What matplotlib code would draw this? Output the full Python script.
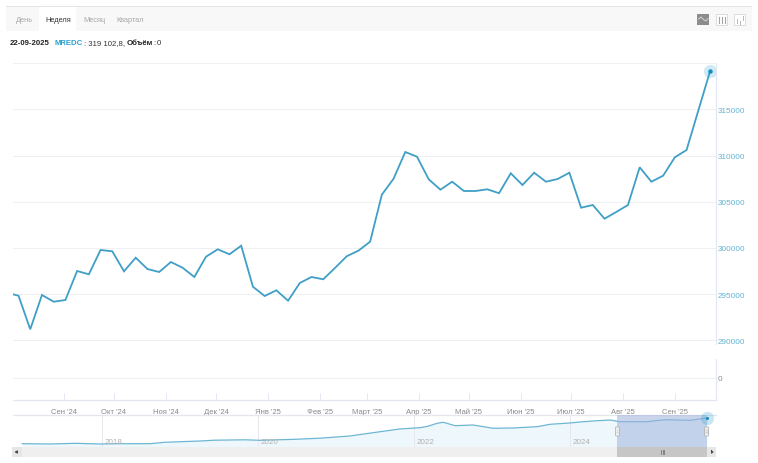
import numpy as np
import pandas as pd
import matplotlib
matplotlib.use("Agg")
import matplotlib.pyplot as plt
import matplotlib.dates as mdates
from matplotlib.patches import Rectangle, FancyBboxPatch

plt.rcParams['font.family'] = ['Liberation Sans', 'DejaVu Sans']

W, H = 758, 464

# Weekly series, oldest first; the last point is dated 22-09-2025
weekly_values = [295145, 294832, 291196, 294907, 294182, 294366, 297504, 297147, 299776, 299636,
                 297472, 298943, 297720, 297396, 298478, 297861, 296855, 299051, 299852, 299311,
                 300242, 295805, 294799, 295416, 294291, 296206, 296855, 296606, 297829, 299095,
                 299701, 300674, 305760, 307491, 310380, 309871, 307426, 306301, 307166, 306160,
                 306160, 306344, 305922, 308075, 306809, 308140, 307166, 307458, 308140, 304353,
                 304645, 303163, 303888, 304645, 308724, 307166, 307816, 309806, 310596, 314850,
                 319102.8]
last_date = "2025-09-22"
weekly_dates = pd.date_range(end=last_date, periods=len(weekly_values), freq="7D")

y_ticks = [290000, 295000, 300000, 305000, 310000, 315000]
month_ticks = ["2024-09-01", "2024-10-01", "2024-11-01", "2024-12-01", "2025-01-01", "2025-02-01",
               "2025-03-01", "2025-04-01", "2025-05-01", "2025-06-01", "2025-07-01", "2025-08-01",
               "2025-09-01"]
month_labels = ["Сен '24", "Окт '24", "Ноя '24", "Дек '24", "Янв '25", "Фев '25", "Март '25",
                "Апр '25", "Май '25", "Июн '25", "Июл '25", "Авг '25", "Сен '25"]

# Overview series (decimal year, value)
nav_years = [2016.98, 2017.34, 2017.66, 2017.98, 2018.23, 2018.62, 2018.81, 2019.26, 2019.45, 2019.84,
             2020.03, 2020.48, 2020.80, 2021.18, 2021.57, 2021.82, 2022.08, 2022.18, 2022.30, 2022.38,
             2022.53, 2022.76, 2023.02, 2023.27, 2023.58, 2023.75, 2024.0, 2024.13, 2024.35, 2024.52,
             2024.64, 2024.99, 2025.22, 2025.54, 2025.76]
nav_values = [152050, 150100, 154650, 150100, 152050, 152050, 161150, 169600, 174800, 177400,
              174150, 180650, 187800, 202100, 230050, 247600, 256050, 265150, 284650, 291150,
              269050, 273600, 252150, 254100, 262550, 278150, 286600, 293100, 301550, 306100,
              295050, 295050, 308050, 304150, 319100]
nav_year_ticks = [2018, 2020, 2022, 2024]

GRID = "#eef0f4"
LINE = "#3f9fc6"
TICK = "#62b3d3"
GRAY = "#8a8a8a"
AXISL = "#e3e7f2"
HDR = 5.6

fig = plt.figure(figsize=(W / 100, H / 100), dpi=100, facecolor="white")


def px_axes(x0, y0, x1, y1, **kw):
    return fig.add_axes([x0 / W, 1 - y1 / H, (x1 - x0) / W, (y1 - y0) / H], **kw)


# Chrome layer (pixel coordinates)
bg = px_axes(0, 0, W, H)
bg.set_xlim(0, W)
bg.set_ylim(H, 0)
bg.axis("off")
bg.add_patch(Rectangle((6, 8), 746, 24, fc="#f8f8f8", ec="none"))
bg.add_patch(Rectangle((6, 6.5), 746, 1.6, fc="#e4e4e4", ec="none"))
bg.add_patch(Rectangle((39, 8), 37, 24, fc="white", ec="none"))
for tx, lab, col in [(15.5, "День", "#a8a8a8"), (45, "Неделя", "#333333"),
                     (83, "Месяц", "#a8a8a8"), (116.5, "Квартал", "#a8a8a8")]:
    bg.text(tx, 20.3, lab, fontsize=5.3, color=col, va="center", ha="left")
# Header line
bg.text(9.5, 43.5, "22-09-2025", fontsize=HDR, weight="bold", color="#222222", va="center")
bg.text(54.5, 43.5, "MREDC", fontsize=HDR, weight="bold", color="#2a9fd0", va="center")
bg.text(84.5, 43.5, ": 319 102,8,", fontsize=HDR, color="#333333", va="center")
bg.text(127, 43.5, "Объём", fontsize=5.6, weight="bold", color="#222222", va="center")
bg.text(152.8, 43.5, ":", fontsize=HDR, color="#333333", va="center")
bg.text(157, 43.5, "0", fontsize=HDR, color="#333333", va="center")
# Toolbar icons
bg.add_patch(Rectangle((697, 14.5), 12, 11.5, fc="#8c8c8c", ec="none"))
bg.plot([698.5, 701, 703.5, 706, 708], [20, 18, 20.5, 22, 19.5], color="#d5d5d5", lw=0.7)
for ix in (716, 734):
    bg.add_patch(Rectangle((ix, 15), 11, 11, fc="white", ec="#d8d8d8", lw=0.6))
for ix in (719, 721.5, 724.5):
    bg.plot([ix, ix], [17.5, 23.5], color="#a5a5a5", lw=0.8)
for ix, y0, y1 in [(737, 20, 24), (740, 22, 25), (743, 17, 21)]:
    bg.plot([ix, ix], [y0, y1], color="#b8b8b8", lw=0.7)

# Main panel
MAIN_TOP, MAIN_BOT = 63.5, 345
X0, X1 = 12.7, 716.0
PX_PER_DAY = 11.72 / 7
d_end = mdates.date2num(pd.Timestamp(last_date))
xlim = (d_end - (710 - X0) / PX_PER_DAY, d_end + (X1 - 710) / PX_PER_DAY)
VAL_PER_PX = 108.2
val_at = lambda y: 315000 - (y - 110.3) * VAL_PER_PX

ax = px_axes(X0, MAIN_TOP, X1, MAIN_BOT)
ax.set_xlim(xlim)
ax.set_ylim(val_at(MAIN_BOT), val_at(MAIN_TOP))
ax.patch.set_alpha(0)
for s in ("left", "bottom"):
    ax.spines[s].set_visible(False)
ax.spines["top"].set_color(GRID)
ax.spines["top"].set_linewidth(0.8)
ax.spines["right"].set_color(AXISL)
ax.spines["right"].set_linewidth(0.8)
ax.yaxis.tick_right()
ax.set_yticks(y_ticks)
ax.set_yticklabels([str(v) for v in y_ticks])
ax.set_xticks([])
ax.tick_params(axis="y", length=0, pad=1.3, labelsize=5.9, labelcolor=TICK)
ax.grid(axis="y", color=GRID, lw=0.8)
ax.set_axisbelow(True)
ax.plot(weekly_dates, weekly_values, color=LINE, lw=1.3, solid_joinstyle="miter", clip_on=True)
ax.plot(weekly_dates[-1:], weekly_values[-1:], "o", ms=9.5, color="#2a9fd0", alpha=0.22, mec="none", clip_on=False)
ax.plot(weekly_dates[-1:], weekly_values[-1:], "o", ms=3.2, color="#0d8fc4", mec="none", clip_on=False)

# Volume panel
ax2 = px_axes(X0, 360, X1, 401.3)
ax2.set_xlim(xlim)
ax2.set_ylim(-22.3, 19)
ax2.patch.set_alpha(0)
for s in ("left", "top"):
    ax2.spines[s].set_visible(False)
ax2.spines["right"].set_color(AXISL)
ax2.spines["right"].set_linewidth(0.8)
ax2.spines["bottom"].set_color(AXISL)
ax2.spines["bottom"].set_linewidth(0.9)
ax2.yaxis.tick_right()
ax2.set_yticks([0])
ax2.set_yticklabels(["0"])
ax2.tick_params(axis="y", length=0, pad=1.3, labelsize=5.9, labelcolor=GRAY)
ax2.grid(axis="y", color=GRID, lw=0.8)
ax2.set_xticks(pd.to_datetime(month_ticks))
ax2.set_xticklabels(month_labels)
ax2.tick_params(axis="x", direction="in", length=5, width=0.7, color=AXISL, pad=5.5,
                labelsize=5.5, labelcolor=GRAY)
for lab in ax2.get_xticklabels():
    lab.set_ha("center")

# Overview navigator
NAV_TOP, NAV_BOT = 416.3, 448
px_per_year = 78.0
yr_lim = (2018 + (X0 - 101.7) / px_per_year, 2018 + (X1 - 101.7) / px_per_year)
nav_val = lambda y: 319100 - (y - 419) * 6500
nav = px_axes(X0, NAV_TOP, X1, NAV_BOT)
nav.set_xlim(yr_lim)
nav.set_ylim(nav_val(NAV_BOT), nav_val(NAV_TOP))
nav.patch.set_alpha(0)
for s in ("left", "right", "bottom"):
    nav.spines[s].set_visible(False)
nav.spines["top"].set_color("#e4e7ee")
nav.spines["top"].set_linewidth(0.9)
nav.set_yticks([])
nav.set_xticks(nav_year_ticks)
nav.set_xticklabels([])
nav.tick_params(axis="x", length=0)
nav.grid(axis="x", color="#e6e8ee", lw=0.7)
nav.fill_between(nav_years, nav_values, nav_val(NAV_BOT), color="#eef8fc", lw=0)
nav.plot(nav_years, nav_values, color="#6db6d4", lw=0.9)
for yr in nav_year_ticks:
    nav.text(yr + 2.5 / px_per_year, nav_val(442.7), str(yr), fontsize=5.8, color="#b0b0b0", va="center", ha="left")
sel0 = 2018 + (617 - 101.7) / px_per_year
sel1 = 2018 + (706.7 - 101.7) / px_per_year
nav.axvspan(sel0, sel1, color="#9fb3dc", alpha=0.55, lw=0, zorder=3)
nav.plot(nav_years[-1:], nav_values[-1:], "o", ms=9.5, color="#2a9fd0", alpha=0.25, mec="none", clip_on=False, zorder=4)
nav.plot(nav_years[-1:], nav_values[-1:], "o", ms=2.2, color="#0d8fc4", mec="none", clip_on=False, zorder=5)

# Scrollbar and handles (drawn above the panels)
top = px_axes(0, 0, W, H)
top.set_xlim(0, W)
top.set_ylim(H, 0)
top.axis("off")
top.patch.set_alpha(0)
top.add_patch(Rectangle((12, 448), 704, 10, fc="#efefef", ec="none"))
top.add_patch(Rectangle((12, 448), 10, 10, fc="#e6e6e6", ec="none"))
top.add_patch(Rectangle((707, 448), 9, 10, fc="#e6e6e6", ec="none"))
top.add_patch(Rectangle((617, 448), 90, 10, fc="#c6c6c6", ec="none"))
top.plot([15.8, 17.5, 17.5, 15.8], [453, 451.8, 454.2, 453], color="#444444", lw=0.7)
top.plot([711.5, 713, 711.5, 711.5], [451.8, 453, 454.2, 451.8], color="#444444", lw=0.7)
for bx in (661, 662.5, 664):
    top.plot([bx, bx], [451, 455], color="#777777", lw=0.6)
for hx in (617.5, 706.7):
    top.add_patch(FancyBboxPatch((hx - 2, 428), 4, 9, boxstyle="round,pad=0,rounding_size=0.8",
                                 fc="#f4f4f4", ec="#a8a8a8", lw=0.5))
    for dy in (431, 432.5, 434):
        top.plot([hx - 0.8, hx + 0.8], [dy, dy], color="#9a9a9a", lw=0.35)

fig.savefig("out.png", dpi=100, facecolor="white")
